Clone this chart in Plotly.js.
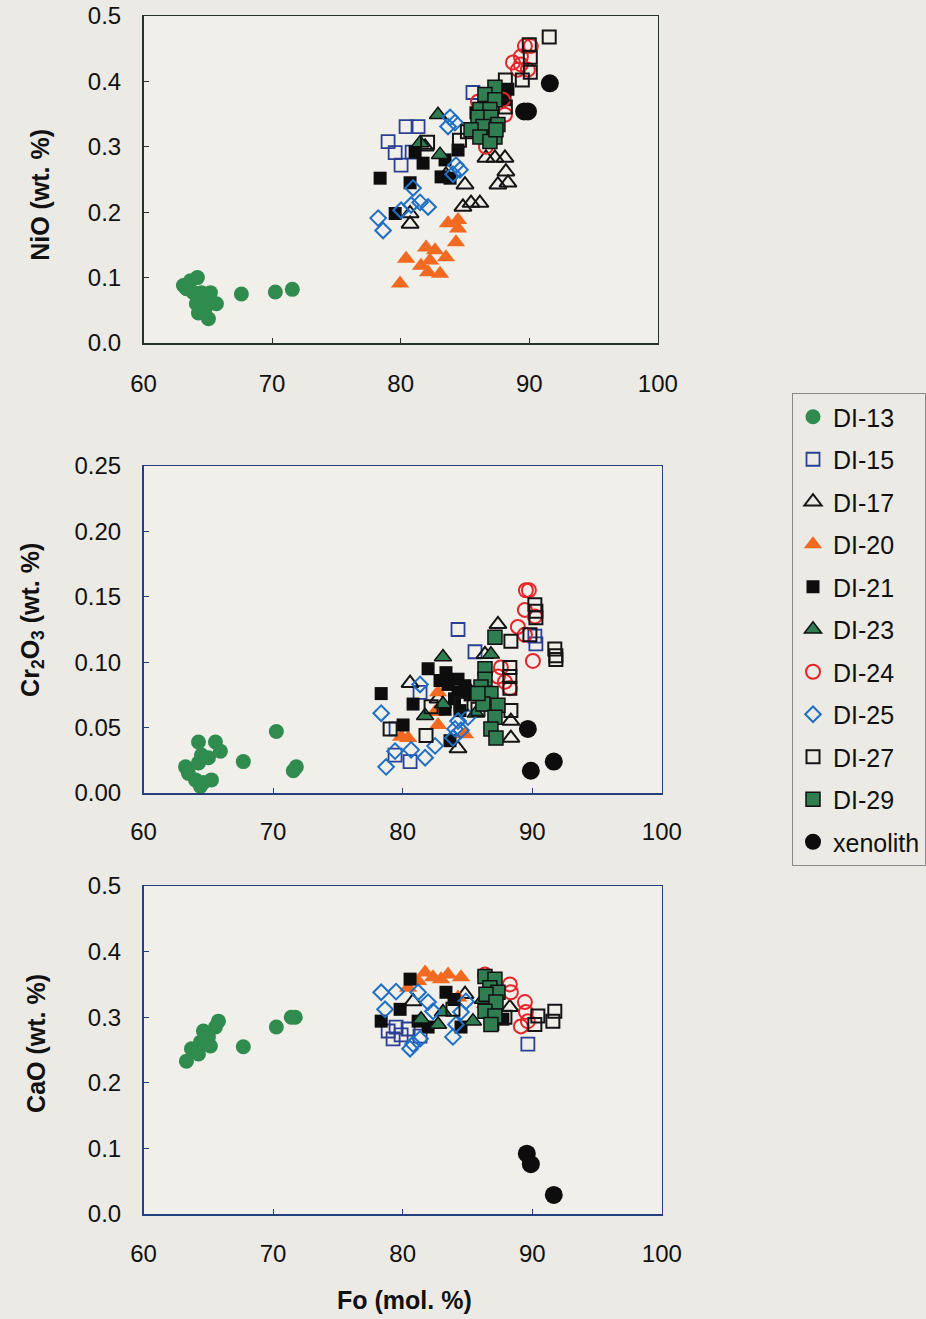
<!DOCTYPE html>
<html><head><meta charset="utf-8">
<script src="https://cdn.plot.ly/plotly-3.0.1.min.js"></script>
<style>html,body{margin:0;padding:0;background:#ebeae5;}#chart{width:926px;height:1319px;}</style>
</head><body><div id="chart"></div>
<script>
// ---------- Series names ----------
const seriesNames = ['DI-13','DI-15','DI-17','DI-20','DI-21','DI-23','DI-24','DI-25','DI-27','DI-29','xenolith'];

// ---------- Panel 1: NiO vs Fo ----------
const DI13_ni_fo = [63.1,63.65,64.19,63.34,63.88,64.5,65.2,64.27,64.89,65.67,64.11,64.81,64.27,65.05,67.61,70.25,71.57];
const DI13_ni    = [0.088,0.095,0.100,0.083,0.077,0.077,0.077,0.069,0.068,0.060,0.060,0.054,0.046,0.037,0.075,0.078,0.082];
const DI15_ni_fo = [80.42,81.35,79.02,79.57,80.03,85.62,80.89];
const DI15_ni    = [0.331,0.331,0.308,0.291,0.272,0.383,0.292];
const DI17_ni_fo = [86.63,87.33,88.11,88.18,87.56,88.34,85.0,84.84,85.47,86.16,80.73,80.73,83.52,81.9];
const DI17_ni    = [0.283,0.283,0.283,0.262,0.242,0.245,0.242,0.208,0.214,0.214,0.198,0.182,0.257,0.300];
const DI20_ni_fo = [83.68,84.46,84.46,84.30,81.97,82.67,80.42,83.52,81.58,82.28,82.13,83.06,79.95];
const DI20_ni    = [0.183,0.188,0.175,0.154,0.146,0.142,0.129,0.131,0.118,0.126,0.108,0.106,0.091];
const DI21_ni_fo = [78.40,81.12,81.74,80.73,79.57,83.14,83.84,83.45,84.46,88.34,88.11,85.85];
const DI21_ni    = [0.252,0.292,0.275,0.245,0.198,0.254,0.252,0.280,0.295,0.388,0.372,0.352];
const DI23_ni_fo = [82.90,83.06,81.51];
const DI23_ni    = [0.349,0.288,0.306];
const DI24_ni_fo = [89.66,90.12,89.35,88.73,89.35,89.89,89.12,87.95,86.01,88.11,86.63];
const DI24_ni    = [0.454,0.454,0.438,0.429,0.426,0.418,0.418,0.372,0.369,0.349,0.300];
const DI25_ni_fo = [83.84,84.22,83.68,84.30,84.61,84.07,80.96,81.51,80.81,82.13,80.03,78.25,78.63];
const DI25_ni    = [0.345,0.337,0.331,0.272,0.265,0.258,0.237,0.215,0.211,0.208,0.203,0.191,0.172];
const DI27_ni_fo = [91.55,90.0,90.08,90.08,89.46,88.14,88.14,85.19,84.57,82.09];
const DI27_ni    = [0.468,0.456,0.437,0.414,0.402,0.402,0.361,0.323,0.310,0.307];
const DI29_ni_fo = [87.33,86.55,87.33,86.16,86.94,86.01,87.02,87.56,86.40,85.47,86.16,87.33,86.94,87.41];
const DI29_ni    = [0.391,0.380,0.372,0.357,0.357,0.345,0.345,0.334,0.331,0.326,0.315,0.315,0.308,0.326];
const XEN_ni_fo  = [91.6,89.6,89.9];
const XEN_ni     = [0.397,0.354,0.354];

// ---------- Panel 2: Cr2O3 vs Fo ----------
const DI13_cr_fo = [64.24,65.55,65.93,64.47,65.01,64.24,63.24,63.47,64.01,64.62,65.24,64.39,67.70,70.25,71.79,71.56];
const DI13_cr    = [0.039,0.039,0.032,0.029,0.027,0.023,0.020,0.015,0.010,0.008,0.010,0.005,0.024,0.047,0.020,0.017];
const DI15_cr_fo = [84.27,85.58,90.20,90.28,81.34,80.57,79.41,79.49,86.19];
const DI15_cr    = [0.125,0.108,0.120,0.114,0.077,0.024,0.029,0.049,0.068];
const DI17_cr_fo = [87.35,86.35,80.57,84.27,88.35,88.35,82.73,85.04];
const DI17_cr    = [0.129,0.106,0.084,0.034,0.042,0.055,0.072,0.080];
const DI20_cr_fo = [82.73,82.50,82.73,80.42,79.88,84.81,86.58];
const DI20_cr    = [0.077,0.062,0.052,0.042,0.043,0.045,0.080];
const DI21_cr_fo = [81.96,83.34,84.27,82.88,78.34,80.80,80.03,83.50,84.27,83.27,83.65,84.42,84.8,85.2,84.0];
const DI21_cr    = [0.095,0.092,0.087,0.086,0.076,0.068,0.052,0.083,0.077,0.064,0.040,0.063,0.082,0.075,0.072];
const DI23_cr_fo = [83.11,86.81,83.11,81.73,85.65];
const DI23_cr    = [0.104,0.106,0.068,0.059,0.061];
const DI24_cr_fo = [89.51,89.74,89.43,90.20,88.89,89.43,90.05,87.58,87.35,87.89,86.73,88.27];
const DI24_cr    = [0.155,0.155,0.140,0.135,0.127,0.121,0.101,0.096,0.089,0.085,0.072,0.080];
const DI25_cr_fo = [81.34,78.34,79.41,78.72,80.65,81.73,82.50,84.04,84.27,84.50,83.88,85.04];
const DI25_cr    = [0.083,0.061,0.032,0.020,0.033,0.027,0.036,0.049,0.055,0.048,0.042,0.058];
const DI27_cr_fo = [90.20,90.28,90.28,89.82,88.35,91.74,91.82,91.82,88.27,88.27,88.27,88.35,82.19,79.03,81.80,84.50,85.81];
const DI27_cr    = [0.144,0.139,0.134,0.121,0.116,0.110,0.105,0.102,0.096,0.089,0.080,0.063,0.066,0.049,0.044,0.068,0.064];
const DI29_cr_fo = [87.12,86.35,86.35,86.04,86.81,86.19,87.35,87.12,86.81,87.20,85.81];
const DI29_cr    = [0.119,0.095,0.087,0.081,0.076,0.068,0.067,0.058,0.049,0.042,0.076];
const XEN_cr_fo  = [89.66,89.89,91.66];
const XEN_cr     = [0.049,0.017,0.024];

// ---------- Panel 3: CaO vs Fo ----------
const DI13_ca_fo = [65.78,65.55,64.62,65.01,64.39,65.16,63.70,64.24,63.31,71.71,70.25,67.70,71.4];
const DI13_ca    = [0.294,0.285,0.279,0.270,0.262,0.256,0.252,0.244,0.233,0.300,0.285,0.255,0.300];
const DI15_ca_fo = [78.88,79.49,79.88,80.42,81.34,89.66,79.26];
const DI15_ca    = [0.279,0.285,0.273,0.282,0.271,0.259,0.267];
const DI17_ca_fo = [80.80,84.81,88.27];
const DI17_ca    = [0.324,0.335,0.315];
const DI20_ca_fo = [81.73,82.34,82.96,83.50,84.50,81.19,80.42,84.27,86.35];
const DI20_ca    = [0.368,0.361,0.358,0.365,0.361,0.355,0.345,0.330,0.320];
const DI21_ca_fo = [80.57,78.34,79.80,81.19,81.96,83.34,83.96,84.50,86.96,87.73];
const DI21_ca    = [0.358,0.294,0.312,0.294,0.285,0.338,0.327,0.285,0.289,0.297];
const DI23_ca_fo = [81.42,83.11,85.42,82.73,86.19];
const DI23_ca    = [0.297,0.308,0.294,0.289,0.327];
const DI24_ca_fo = [86.35,88.27,88.35,89.43,89.51,89.66,89.12];
const DI24_ca    = [0.365,0.350,0.338,0.323,0.308,0.294,0.286];
const DI25_ca_fo = [78.34,79.49,78.64,81.19,81.96,82.34,80.80,80.57,81.34,83.88,84.11,84.50,84.88];
const DI25_ca    = [0.338,0.339,0.312,0.338,0.323,0.309,0.259,0.252,0.267,0.270,0.289,0.308,0.324];
const DI27_ca_fo = [91.74,91.59,90.43,90.20,87.89,83.88];
const DI27_ca    = [0.309,0.294,0.302,0.289,0.300,0.312];
const DI29_ca_fo = [86.35,87.12,86.73,87.35,86.43,87.20,86.35,87.12,86.81];
const DI29_ca    = [0.362,0.358,0.345,0.338,0.335,0.323,0.309,0.302,0.289];
const XEN_ca_fo  = [89.58,89.89,91.66];
const XEN_ca     = [0.092,0.076,0.029];

// ---------- Tick labels ----------
const foTicks  = [60,70,80,90,100];
const niTicks  = [0.0,0.1,0.2,0.3,0.4,0.5];
const crTicks  = [0.00,0.05,0.10,0.15,0.20,0.25];
const caTicks  = [0.0,0.1,0.2,0.3,0.4,0.5];

// ---------- Build ----------
const niX = [DI13_ni_fo,DI15_ni_fo,DI17_ni_fo,DI20_ni_fo,DI21_ni_fo,DI23_ni_fo,DI24_ni_fo,DI25_ni_fo,DI27_ni_fo,DI29_ni_fo,XEN_ni_fo];
const niY = [DI13_ni,DI15_ni,DI17_ni,DI20_ni,DI21_ni,DI23_ni,DI24_ni,DI25_ni,DI27_ni,DI29_ni,XEN_ni];
const crX = [DI13_cr_fo,DI15_cr_fo,DI17_cr_fo,DI20_cr_fo,DI21_cr_fo,DI23_cr_fo,DI24_cr_fo,DI25_cr_fo,DI27_cr_fo,DI29_cr_fo,XEN_cr_fo];
const crY = [DI13_cr,DI15_cr,DI17_cr,DI20_cr,DI21_cr,DI23_cr,DI24_cr,DI25_cr,DI27_cr,DI29_cr,XEN_cr];
const caX = [DI13_ca_fo,DI15_ca_fo,DI17_ca_fo,DI20_ca_fo,DI21_ca_fo,DI23_ca_fo,DI24_ca_fo,DI25_ca_fo,DI27_ca_fo,DI29_ca_fo,XEN_ca_fo];
const caY = [DI13_ca,DI15_ca,DI17_ca,DI20_ca,DI21_ca,DI23_ca,DI24_ca,DI25_ca,DI27_ca,DI29_ca,XEN_ca];

const markerStyles = [
  {symbol:'circle', size:15, color:'#2f8c4e', line:{width:0}},
  {symbol:'square-open', size:13, color:'#2b3f94', line:{width:1.8}},
  {symbol:'triangle-up-open', size:15, color:'#151515', line:{width:2}},
  {symbol:'triangle-up', size:16, color:'#f26a21', line:{width:0}},
  {symbol:'square', size:13, color:'#0d0d0d', line:{width:0}},
  {symbol:'triangle-up', size:15, color:'#2f7d50', line:{color:'#111', width:1.5}},
  {symbol:'circle-open', size:14, color:'#e5262b', line:{width:2}},
  {symbol:'diamond-open', size:12, color:'#1f6fc4', line:{width:2}},
  {symbol:'square-open', size:13, color:'#151515', line:{width:2}},
  {symbol:'square', size:14, color:'#2f7d50', line:{color:'#111', width:1.5}},
  {symbol:'circle', size:18, color:'#0d0d0d', line:{width:0}}
];

const traces = [];
const panels = [[niX,niY,'x','y'],[crX,crY,'x2','y2'],[caX,caY,'x3','y3']];
panels.forEach((p,pi)=>{
  seriesNames.forEach((nm,i)=>{
    traces.push({
      type:'scatter', mode:'markers', name:nm, legendgroup:nm,
      showlegend: pi===0, x:p[0][i], y:p[1][i], xaxis:p[2], yaxis:p[3],
      marker: markerStyles[i], cliponaxis:false
    });
  });
});

const W=926,H=1319;
const FONT='Liberation Sans, Arial, sans-serif';
function xAx(l,r,anchor,lc,standoff){
  return {domain:[l/W,r/W], anchor:anchor, range:[60,100], tickvals:foTicks, ticktext:foTicks.map(String),
    showline:true, mirror:true, linecolor:lc, linewidth:1.5, ticks:'inside', ticklen:5, tickcolor:lc,
    showgrid:false, zeroline:false, tickfont:{size:24,color:'#111'}, ticklabelstandoff:standoff, fixedrange:true};
}
function yAx(t,b,anchor,lc,ticks,dec,mx){
  return {domain:[1-b/H,1-t/H], anchor:anchor, range:[0,mx], tickvals:ticks, ticktext:ticks.map(v=>v.toFixed(dec)),
    showline:true, mirror:true, linecolor:lc, linewidth:1.5, ticks:'inside', ticklen:5, tickcolor:lc,
    showgrid:false, zeroline:false, tickfont:{size:24,color:'#111'}, ticklabelstandoff:16, fixedrange:true};
}

const layout = {
  width:W, height:H, margin:{l:0,r:0,t:0,b:0},
  paper_bgcolor:'#ebeae5', plot_bgcolor:'#f0efea',
  font:{family:FONT, color:'#111'},
  showlegend:true,
  xaxis: xAx(144,660,'y','#27322a',19),
  yaxis: yAx(16,343,'x','#27322a',niTicks,1,0.5),
  xaxis2: xAx(144,664,'y2','#23407c',17),
  yaxis2: yAx(466,793,'x2','#23407c',crTicks,2,0.25),
  xaxis3: xAx(144,664,'y3','#23407c',18),
  yaxis3: yAx(886,1214,'x3','#23407c',caTicks,1,0.5),
  legend:{x:795/W, xanchor:'left', y:1-393/H, yanchor:'top', bordercolor:'#8a8a8a', borderwidth:1,
    bgcolor:'rgba(0,0,0,0)', font:{size:25,color:'#111',family:FONT}, tracegroupgap:7, itemsizing:'trace'},
  annotations:[
    {text:'<b>NiO (wt. %)</b>', xref:'paper', yref:'paper', x:40/W, y:1-195/H, xanchor:'center', yanchor:'middle', textangle:-90, showarrow:false, font:{size:25}},
    {text:'<b>Cr<sub>2</sub>O<sub>3</sub> (wt. %)</b>', xref:'paper', yref:'paper', x:32/W, y:1-620/H, xanchor:'center', yanchor:'middle', textangle:-90, showarrow:false, font:{size:25}},
    {text:'<b>CaO (wt. %)</b>', xref:'paper', yref:'paper', x:36/W, y:1-1043/H, xanchor:'center', yanchor:'middle', textangle:-90, showarrow:false, font:{size:25}},
    {text:'<b>Fo (mol. %)</b>', xref:'paper', yref:'paper', x:406/W, y:1-1300/H, xanchor:'center', yanchor:'middle', showarrow:false, font:{size:25}}
  ]
};

Plotly.newPlot('chart', traces, layout, {displayModeBar:false, staticPlot:true});
</script></body></html>
